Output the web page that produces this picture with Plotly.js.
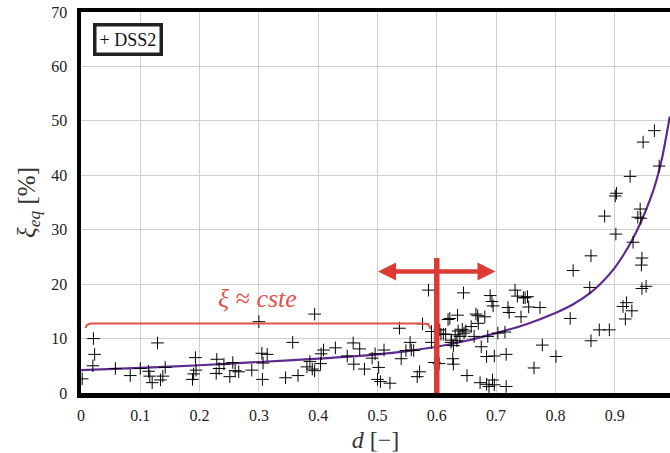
<!DOCTYPE html>
<html>
<head>
<meta charset="utf-8">
<script src="https://cdn.plot.ly/plotly-3.0.1.min.js"></script>
<style>html,body{margin:0;padding:0;background:#fff;}#chart{width:670px;height:453px;}</style>
</head>
<body>
<div id="chart"></div>
<script>
// Scatter data: damage d [-] and equivalent damping xi_eq [%]
const dssD = [
0.002,0.021,0.023,0.020,0.058,0.083,0.100,0.114,0.116,0.120,0.129,0.134,0.138,0.142,0.188,0.190,0.193,0.194,
0.229,0.228,0.233,0.241,0.251,0.256,0.260,0.266,0.288,0.300,0.305,0.314,0.307,0.306,0.345,0.357,0.366,0.394,
0.381,0.386,0.390,0.394,0.404,0.405,0.409,
0.429,0.449,0.459,0.470,0.460,0.478,0.491,0.496,0.502,0.500,0.505,0.511,0.521,0.537,0.540,0.548,0.555,0.557,
0.561,0.567,0.571,0.576,
0.586,0.591,0.591,0.596,0.604,0.605,0.607,0.611,0.615,0.619,0.622,0.625,0.624,0.628,0.627,0.628,0.631,0.635,
0.634,0.636,0.639,0.643,0.645,0.646,0.649,0.651,0.658,0.663,0.666,0.669,0.670,0.673,0.675,0.681,0.684,0.686,
0.684,0.688,0.690,0.693,0.694,0.695,0.697,0.697,0.703,0.715,0.717,0.717,0.720,0.722,0.732,0.736,0.742,0.746,
0.749,0.753,0.755,0.764,
0.774,0.778,0.801,0.825,0.830,0.860,0.858,0.860,0.874,0.891,0.914,0.920,0.929,0.918,0.946,0.945,0.946,0.953,
0.967,0.948,0.975,0.926,0.903,0.901,0.943,0.939,0.944,0.883,0.902,0.931
];
const dssXi = [
2.6,10.0,7.1,5.0,4.5,3.2,4.5,4.0,3.1,1.9,9.2,2.4,3.1,4.7,2.5,3.5,6.5,4.2,
6.2,3.6,4.5,5.3,3.0,5.6,4.1,3.9,4.2,13.1,7.3,7.1,5.5,2.5,2.8,9.3,3.2,14.5,
4.8,5.8,4.4,4.1,5.4,7.2,7.9,
8.3,6.8,9.2,8.1,5.3,4.4,6.4,7.2,4.7,2.5,2.1,7.9,1.8,11.9,6.3,7.8,9.3,7.9,
7.8,3.0,3.9,12.7,
18.9,11.3,9.3,5.6,5.4,11.6,10.8,10.8,10.8,13.5,13.7,9.7,9.3,8.7,6.3,5.3,10.7,14.3,
9.6,11.4,10.4,11.7,18.4,11.0,11.4,3.2,12.2,10.4,14.5,14.2,12.8,1.9,8.5,14.0,6.7,10.4,
1.6,1.2,17.9,16.8,2.4,16.0,6.8,1.5,11.0,11.2,7.1,1.2,15.7,14.8,18.9,17.8,14.0,17.5,
17.5,17.7,15.8,4.6,
15.7,8.8,6.7,13.7,22.5,25.2,19.4,9.6,11.6,11.6,15.9,16.6,15.1,13.6,24.8,23.5,19.2,19.6,
48.2,46.1,41.7,39.8,36.7,36.2,33.8,32.3,32.1,32.5,29.2,27.7
];
// Fitted curve
const fitD  = [0, 0.1, 0.2, 0.3, 0.4, 0.5, 0.55, 0.6, 0.65, 0.7, 0.75, 0.8, 0.83, 0.86, 0.88, 0.9, 0.915, 0.93, 0.945, 0.96, 0.97, 0.98, 0.993];
const fitXi = [4.2, 4.6, 5.1, 5.7, 6.3, 7.1, 7.7, 8.5, 9.6, 11.0, 12.6, 14.7, 16.3, 18.5, 20.5, 23.0, 25.4, 28.2, 31.6, 35.6, 38.9, 43.2, 50.8];
const xTicks = [0, 0.1, 0.2, 0.3, 0.4, 0.5, 0.6, 0.7, 0.8, 0.9];
const xTickText = ['0', '0.1', '0.2', '0.3', '0.4', '0.5', '0.6', '0.7', '0.8', '0.9'];
const yTicks = [0, 10, 20, 30, 40, 50, 60, 70];
const seriesName = 'DSS2';

const serif = 'Liberation Serif, Times New Roman, serif';
const red = '#dc3b33';
const redLight = '#e2524b';

const traces = [
  {
    x: fitD, y: fitXi, type: 'scatter', mode: 'lines',
    line: {color: '#5e2a8e', width: 2.2, shape: 'spline', smoothing: 0.8},
    showlegend: false, hoverinfo: 'skip', cliponaxis: true
  },
  {
    x: dssD, y: dssXi, type: 'scatter', mode: 'markers', name: seriesName,
    marker: {symbol: 'cross-thin-open', size: 9, color: '#000', line: {color: '#000', width: 1}},
    showlegend: false, cliponaxis: true
  }
];

const layout = {
  width: 670, height: 453,
  margin: {l: 81, r: 0, t: 12, b: 60},
  paper_bgcolor: '#fff', plot_bgcolor: '#fff',
  font: {family: serif, color: '#222'},
  showlegend: false,
  xaxis: {
    range: [0, 0.9933], tickvals: xTicks, ticktext: xTickText,
    showgrid: true, gridcolor: '#cfcfcf', gridwidth: 1,
    showline: true, linecolor: '#000', linewidth: 4.5, mirror: true,
    zeroline: false, ticks: '', tickfont: {family: serif, size: 16, color: '#222'},
    ticklabelstandoff: 4,
    title: {text: '<i>d</i> [\u2212]', font: {family: serif, size: 24, color: '#333'}, standoff: 12}
  },
  yaxis: {
    range: [0, 70], tickvals: yTicks,
    showgrid: true, gridcolor: '#cfcfcf', gridwidth: 1,
    showline: true, linecolor: '#000', linewidth: 4.5,
    zeroline: false, ticks: '', tickfont: {family: serif, size: 16, color: '#222'},
    ticklabelstandoff: 6,
    title: {text: '<i>\u03be</i><sub><i>eq</i></sub> [%]', font: {family: serif, size: 25, color: '#333'}, standoff: 10}
  },
  shapes: [
    {type: 'line', xref: 'x', yref: 'y', x0: 0.6, x1: 0.6, y0: 0, y1: 24.8,
     line: {color: red, width: 5.5}},
    {type: 'path', xref: 'x', yref: 'y',
     path: 'M 0.008,11.9 Q 0.009,12.75 0.018,12.75 L 0.578,12.75 Q 0.588,12.75 0.589,11.8',
     line: {color: redLight, width: 2}}
  ],
  annotations: [
    {x: 0.501, y: 22.3, ax: 0.6, ay: 22.3, xref: 'x', yref: 'y', axref: 'x', ayref: 'y',
     text: '', showarrow: true, arrowhead: 2, arrowsize: 0.8, arrowwidth: 4.5, arrowcolor: red},
    {x: 0.699, y: 22.3, ax: 0.6, ay: 22.3, xref: 'x', yref: 'y', axref: 'x', ayref: 'y',
     text: '', showarrow: true, arrowhead: 2, arrowsize: 0.8, arrowwidth: 4.5, arrowcolor: red},
    {x: 0.298, y: 17.4, xref: 'x', yref: 'y', showarrow: false,
     text: '<i>\u03be</i> \u2248 <i>cste</i>', font: {family: serif, size: 26, color: redLight}},
    {x: 0.0204, y: 0.971, xref: 'paper', yref: 'paper', xanchor: 'left', yanchor: 'top',
     showarrow: false, text: '+ ' + seriesName, align: 'left',
     font: {family: serif, size: 18, color: '#111'},
     bgcolor: '#fff', bordercolor: '#222', borderwidth: 3.5, borderpad: 3}
  ]
};

Plotly.newPlot('chart', traces, layout, {staticPlot: true, displayModeBar: false});
</script>
</body>
</html>
